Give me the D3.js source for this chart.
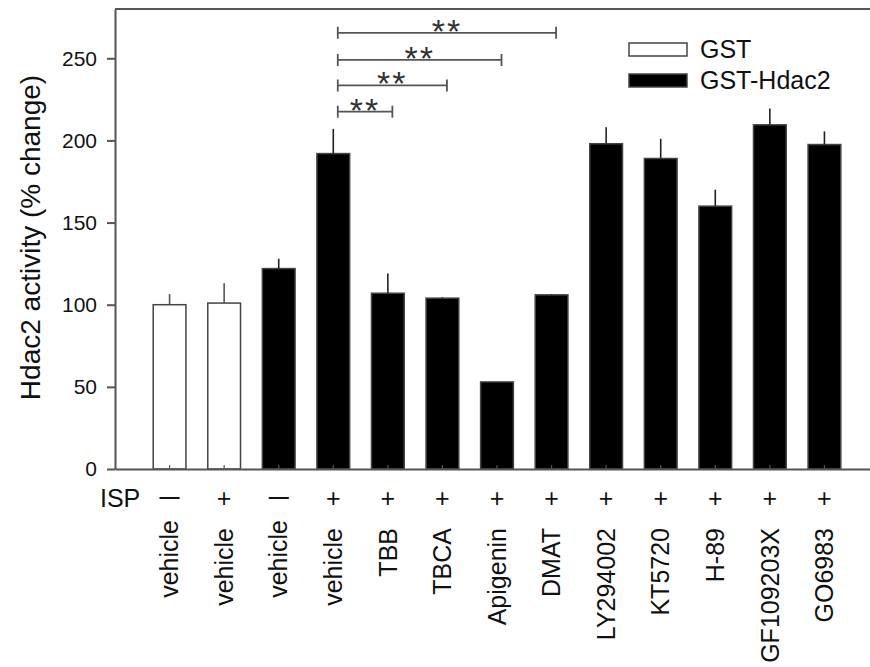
<!DOCTYPE html>
<html>
<head>
<meta charset="utf-8">
<script src="https://cdn.jsdelivr.net/npm/d3@7"></script>
<style>
  html, body { margin: 0; padding: 0; background: #fff; }
  svg { display: block; font-family: "Liberation Sans", Arial, sans-serif; }
</style>
</head>
<body>
<svg id="chart" width="870" height="667"></svg>
<script>
// Treatment labels along the x axis
const treatments = ["vehicle", "vehicle", "vehicle", "vehicle", "TBB", "TBCA", "Apigenin",
                    "DMAT", "LY294002", "KT5720", "H-89", "GF109203X", "GO6983"];
// ISP stimulation (+ / −) per bar
const isp = ["−", "+", "−", "+", "+", "+", "+", "+", "+", "+", "+", "+", "+"];
// Protein used per bar
const groups = ["GST", "GST", "GST-Hdac2", "GST-Hdac2", "GST-Hdac2", "GST-Hdac2", "GST-Hdac2",
                "GST-Hdac2", "GST-Hdac2", "GST-Hdac2", "GST-Hdac2", "GST-Hdac2", "GST-Hdac2"];
// Hdac2 activity (% change) and its upper error
const activity = [100, 101, 122, 192, 107, 104, 53, 106, 198, 189, 160, 209.5, 197.5];
const errors   = [6.5, 12, 6, 15, 12, 0.5, 0, 0.5, 10, 12, 10, 10, 8];
// Significance comparisons: [from bar, to bar, bracket height, label]
const compFrom   = [3, 3, 3, 3];
const compTo     = [4, 5, 6, 7];
const compHeight = [217.5, 233.5, 249, 265.5];
const compLabel  = ["**", "**", "**", "**"];
// Y axis ticks and legend entries
const yTicks = [0, 50, 100, 150, 200, 250];
const legendNames = ["GST", "GST-Hdac2"];
const legendFill  = ["#ffffff", "#000000"];

const svg = d3.select("#chart");
const ink = "#111";
const axisInk = "#555";

const x = d3.scaleBand()
  .domain(d3.range(treatments.length))
  .range([115, 879])
  .paddingInner(0.4)
  .paddingOuter(0.7);

const y = d3.scaleLinear().domain([0, 280]).range([469, 9]);

const fillOf = d3.scaleOrdinal().domain(legendNames).range(legendFill);
const cx = i => x(i) + x.bandwidth() / 2;

// Frame: top line
svg.append("line")
  .attr("x1", 115).attr("x2", 870)
  .attr("y1", y(280)).attr("y2", y(280))
  .attr("stroke", axisInk).attr("stroke-width", 2);

// Bars
svg.append("g").selectAll("rect")
  .data(activity)
  .join("rect")
  .attr("x", (d, i) => x(i))
  .attr("width", x.bandwidth())
  .attr("y", d => y(d))
  .attr("height", d => y(0) - y(d))
  .attr("fill", (d, i) => fillOf(groups[i]))
  .attr("stroke", "#444")
  .attr("stroke-width", 1.5);

// Error bars (upper only)
svg.append("g").selectAll("line")
  .data(activity)
  .join("line")
  .attr("x1", (d, i) => cx(i)).attr("x2", (d, i) => cx(i))
  .attr("y1", d => y(d))
  .attr("y2", (d, i) => y(d + errors[i]))
  .attr("stroke", (d, i) => groups[i] === "GST" ? "#555" : "#222")
  .attr("stroke-width", 1.6);

// Y axis
const yAxis = svg.append("g")
  .attr("transform", "translate(115,0)")
  .call(d3.axisLeft(y).tickValues(yTicks).tickSize(8).tickSizeOuter(0).tickPadding(10));
yAxis.select(".domain").attr("stroke", axisInk).attr("stroke-width", 2);
yAxis.selectAll(".tick line").attr("stroke", axisInk).attr("stroke-width", 2);
yAxis.selectAll(".tick text")
  .attr("font-size", 21).attr("fill", ink)
  .attr("font-family", "Liberation Sans, Arial, sans-serif");

// X axis with small inward ticks
const xAxis = svg.append("g")
  .attr("transform", `translate(0,${y(0)})`)
  .call(d3.axisBottom(x).tickSize(-4).tickSizeOuter(0).tickFormat(""));
xAxis.select(".domain").attr("stroke", axisInk).attr("stroke-width", 2);
xAxis.selectAll(".tick line").attr("stroke", axisInk).attr("stroke-width", 1.2);

// Y axis title
svg.append("text")
  .attr("transform", "translate(40,237.5) rotate(-90)")
  .attr("text-anchor", "middle")
  .attr("font-size", 28)
  .attr("fill", ink)
  .text("Hdac2 activity (% change)");

// ISP row
svg.append("text")
  .attr("x", 100).attr("y", 507)
  .attr("font-size", 25).attr("fill", ink)
  .text("ISP");

svg.append("g").selectAll("text")
  .data(isp)
  .join("text")
  .attr("x", (d, i) => cx(i))
  .attr("y", d => d === "+" ? 507 : 503)
  .attr("text-anchor", "middle")
  .attr("font-size", d => d === "+" ? 25 : 20)
  .attr("font-weight", d => d === "+" ? "normal" : "bold")
  .attr("fill", ink)
  .text(d => d === "+" ? "+" : "—");

// Rotated treatment labels
svg.append("g").selectAll("text")
  .data(treatments)
  .join("text")
  .attr("transform", (d, i) => `translate(${cx(i)},${isp[i] === "+" ? 528 : 520}) rotate(-90)`)
  .attr("dy", "0.35em")
  .attr("text-anchor", "end")
  .attr("font-size", 25)
  .attr("fill", ink)
  .text(d => d);

// Significance brackets
const brackets = svg.append("g");
compFrom.forEach((a, k) => {
  const x1 = cx(a) + 4.5, x2 = cx(compTo[k]) + 4.5, yy = y(compHeight[k]);
  const path = d3.path();
  path.moveTo(x1, yy - 6); path.lineTo(x1, yy + 6);
  path.moveTo(x1, yy); path.lineTo(x2, yy);
  path.moveTo(x2, yy - 6); path.lineTo(x2, yy + 6);
  brackets.append("path")
    .attr("d", path.toString())
    .attr("fill", "none")
    .attr("stroke", axisInk)
    .attr("stroke-width", 1.8);
  brackets.append("text")
    .attr("x", (x1 + x2) / 2)
    .attr("y", yy + 10)
    .attr("text-anchor", "middle")
    .attr("font-size", 34)
    .attr("letter-spacing", 2)
    .attr("fill", "#333")
    .text(compLabel[k]);
});

// Legend
const legend = svg.append("g");
legendNames.forEach((name, k) => {
  const top = 43 + k * 31;
  legend.append("rect")
    .attr("x", 629).attr("y", top)
    .attr("width", 58).attr("height", 13)
    .attr("fill", legendFill[k])
    .attr("stroke", "#444").attr("stroke-width", 1.5);
  legend.append("text")
    .attr("x", 700).attr("y", top + 14.5)
    .attr("font-size", 25).attr("fill", ink)
    .text(name);
});
</script>
</body>
</html>
